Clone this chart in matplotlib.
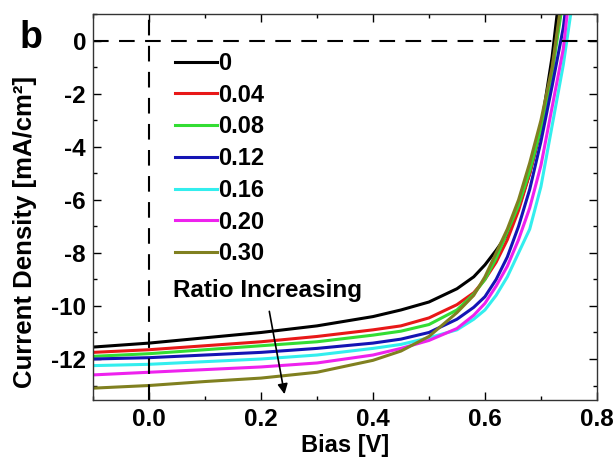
import matplotlib
matplotlib.use("Agg")
import matplotlib.pyplot as plt
from matplotlib.ticker import MultipleLocator, FormatStrFormatter

plt.rcParams['font.family'] = ['Liberation Sans', 'DejaVu Sans']
plt.rcParams['font.weight'] = 'bold'
plt.rcParams['axes.unicode_minus'] = False

# bias points (V)
bias = [-0.1, 0.0, 0.1, 0.2, 0.3, 0.4, 0.45, 0.5, 0.55, 0.58, 0.6,
        0.62, 0.64, 0.66, 0.68, 0.70, 0.72, 0.74, 0.76]

# current density (mA/cm2) for each ratio
j_000 = [-11.55, -11.4, -11.2, -11.0, -10.75, -10.4, -10.15, -9.85, -9.35, -8.9, -8.45,
         -7.9, -7.3, -6.3, -5.0, -3.3, -0.6, 3.0, 6.0]
j_004 = [-11.75, -11.65, -11.5, -11.35, -11.15, -10.9, -10.75, -10.45, -9.95, -9.5, -9.0,
         -8.35, -7.5, -6.4, -5.0, -3.3, -1.1, 1.8, 6.0]
j_008 = [-11.9, -11.8, -11.65, -11.5, -11.35, -11.1, -10.95, -10.7, -10.15, -9.55, -9.0,
         -8.2, -7.2, -6.2, -4.9, -3.3, -1.2, 1.6, 5.5]
j_012 = [-12.0, -11.95, -11.85, -11.75, -11.6, -11.4, -11.25, -11.0, -10.5, -10.05, -9.65,
         -9.0, -8.15, -7.0, -5.6, -3.8, -1.7, 0.5, 4.0]
j_016 = [-12.25, -12.2, -12.1, -12.0, -11.85, -11.6, -11.45, -11.2, -10.9, -10.5, -10.15,
         -9.6, -8.9, -8.0, -7.1, -5.5, -3.2, -0.9, 2.0]
j_020 = [-12.6, -12.5, -12.4, -12.3, -12.15, -11.85, -11.6, -11.3, -10.85, -10.35, -9.9,
         -9.25, -8.5, -7.5, -6.3, -4.7, -2.5, -0.3, 3.5]
j_030 = [-13.1, -13.0, -12.85, -12.72, -12.5, -12.05, -11.7, -11.15, -10.25, -9.6, -8.9,
         -8.0, -7.1, -6.0, -4.6, -3.0, -1.0, 2.0, 6.0]

ratios = ['0', '0.04', '0.08', '0.12', '0.16', '0.20', '0.30']
series = [j_000, j_004, j_008, j_012, j_016, j_020, j_030]
colors = ['black', '#e81818', '#33dd33', '#1414b4', '#33eeee', '#ee22ee', '#808020']

fig = plt.figure(figsize=(6.16, 4.62), dpi=100)
ax = fig.add_axes([0.151, 0.134, 0.818, 0.836])

for lab, j, c in zip(ratios, series, colors):
    ax.plot(bias, j, color=c, lw=2.2, label=lab)

# dashed reference lines
ax.axhline(0, color='black', lw=1.5, ls=(0, (7.5, 5)))
ax.axvline(0, color='black', lw=1.5, ls=(0, (7.5, 5)))

ax.set_xlim(-0.1, 0.8)
ax.set_ylim(-13.55, 1.02)
ax.xaxis.set_major_locator(MultipleLocator(0.2))
ax.xaxis.set_minor_locator(MultipleLocator(0.1))
ax.yaxis.set_major_locator(MultipleLocator(2))
ax.yaxis.set_minor_locator(MultipleLocator(1))
ax.xaxis.set_major_formatter(FormatStrFormatter('%.1f'))
ax.tick_params(which='both', direction='in', top=True, right=True, labelsize=17.5)
ax.tick_params(axis='x', pad=6)
ax.tick_params(axis='y', pad=5)
ax.tick_params(which='major', length=6, width=1)
ax.tick_params(which='minor', length=3, width=1)
for s in ax.spines.values():
    s.set_color('#333333')
    s.set_linewidth(1)

ax.set_xlabel('Bias [V]', fontsize=17, fontweight='bold', labelpad=2)
ax.set_ylabel('Current Density [mA/cm²]', fontsize=18.5, fontweight='bold')
ax.yaxis.set_label_coords(-0.111, 0.435)

ax.legend(loc='upper left', bbox_to_anchor=(0.144, 0.926), frameon=False,
          prop={'weight': 'bold', 'size': 17}, handlelength=1.76,
          handletextpad=0.05, labelspacing=0.37, borderaxespad=0)

ax.text(0.043, -9.4, 'Ratio Increasing', fontsize=17.5, fontweight='bold', va='center')
ax.annotate('', xy=(0.243, -13.43), xytext=(0.214, -10.1),
            arrowprops=dict(arrowstyle='-|>', color='black', lw=1.2, mutation_scale=15))

fig.text(0.032, 0.896, 'b', fontsize=27, fontweight='bold')

fig.savefig('out.png', dpi=100)
